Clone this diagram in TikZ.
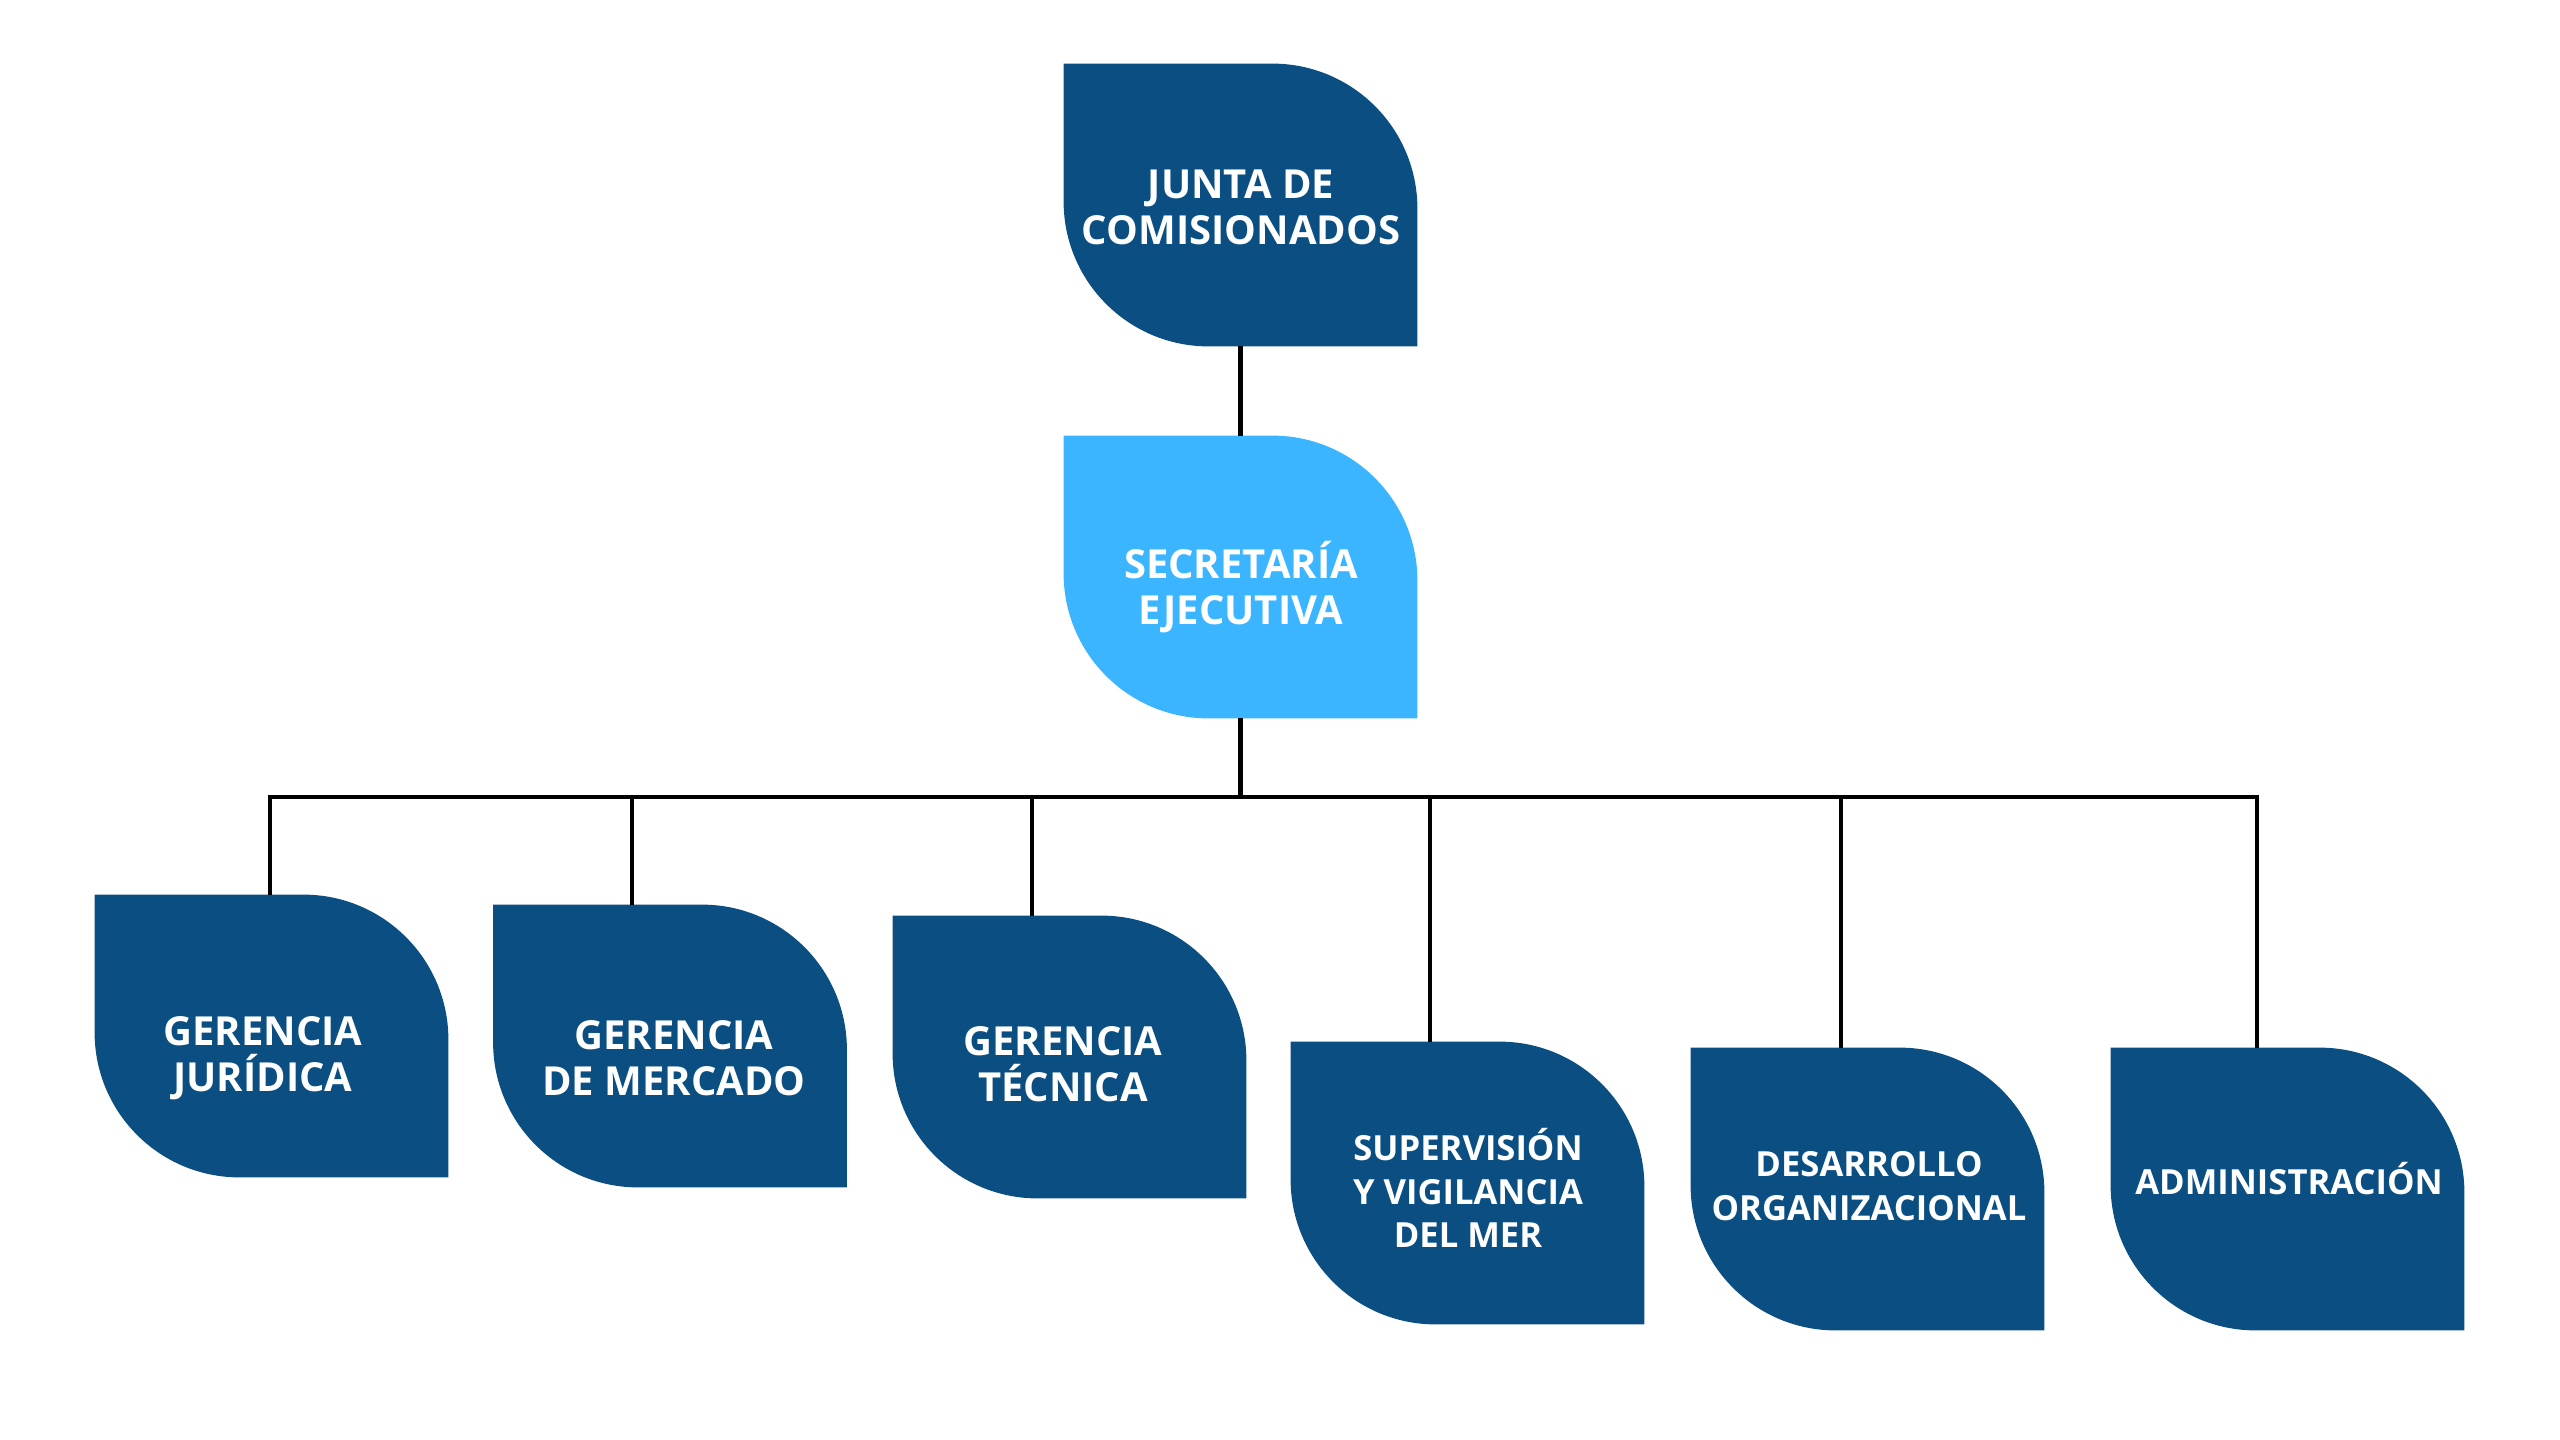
\documentclass[tikz,border=0pt]{standalone}
\usepackage{fontspec}
\setmainfont{Open Sans}
\definecolor{navy}{RGB}{10,78,130}
\definecolor{sky}{RGB}{59,181,255}
\tikzset{
  leaf/.style={minimum width=176.5pt, minimum height=141pt, inner sep=0pt, draw=none},
  lbl/.style={text=white, font=\bfseries\fontsize{20}{23}\selectfont, align=center, inner sep=0pt},
  lblsmall/.style={lbl, font=\bfseries\fontsize{17.3}{21.8}\selectfont},
  link/.style={line width=2.4pt, draw=black, line join=miter},
}
\newcommand\leaffill[2]{%
  \fill[#2] (#1.north west) -- ([xshift=-72.5pt]#1.north east)
    arc[start angle=90,end angle=0,radius=72.5pt] -- (#1.south east)
    -- ([xshift=72.5pt]#1.south west)
    arc[start angle=270,end angle=180,radius=72.5pt] -- cycle;}
\begin{document}
\begin{tikzpicture}[x=0.5pt,y=-0.5pt]
\useasboundingbox (0,0) rectangle (2560,1440);
% boxes
\node[leaf] (top) at (1240.5,205) {};
\node[leaf] (sec) at (1240.5,577) {};
\node[leaf] (b1) at (271.5,1036) {};
\node[leaf] (b2) at (670,1046) {};
\node[leaf] (b3) at (1069.5,1057) {};
\node[leaf] (b4) at (1467.5,1183) {};
\node[leaf] (b5) at (1867.5,1189) {};
\node[leaf] (b6) at (2287.5,1189) {};
\leaffill{top}{navy}
\leaffill{sec}{sky}
\foreach \b in {b1,b2,b3,b4,b5,b6} {\leaffill{\b}{navy}}
% attachment points
\coordinate (bar) at (1240,797);
\coordinate (a1) at ([xshift=-0.75pt]b1.north);
\coordinate (a2) at ([xshift=-19pt]b2.north);
\coordinate (a3) at ([xshift=-18.75pt]b3.north);
\coordinate (a4) at ([xshift=-18.75pt]b4.north);
\coordinate (a5) at ([xshift=-13.25pt]b5.north);
\coordinate (a6) at ([xshift=-15.25pt]b6.north);
% connectors
\draw[link] (top.south) -- (sec.north);
\draw[link] (sec.south) -- (sec.south |- bar);
\draw[link] (a1) -- (a1 |- bar) -- (a6 |- bar) -- (a6);
\foreach \a in {a2,a3,a4,a5} {\draw[link] (\a) -- (\a |- bar);}
% labels
\node[lbl] (ttop) at (1241,207) {JUNTA DE\\COMISIONADOS};
\node[lbl] (tsec) at (1241,587) {SECRETARÍA\\EJECUTIVA};
\node[lbl] (t1) at (263,1058) {GERENCIA\\JURÍDICA};
\node[lbl] (t2) at (674,1058) {GERENCIA\\DE MERCADO};
\node[lbl] (t3) at (1063,1064) {GERENCIA\\TÉCNICA};
\node[lblsmall] (t4) at (1468,1188) {SUPERVISIÓN\\Y VIGILANCIA\\DEL MER};
\node[lblsmall] (t5) at (1869,1186) {DESARROLLO\\ORGANIZACIONAL};
\node[lblsmall] (t6) at (2289,1179) {ADMINISTRACIÓN};
\end{tikzpicture}
\end{document}
